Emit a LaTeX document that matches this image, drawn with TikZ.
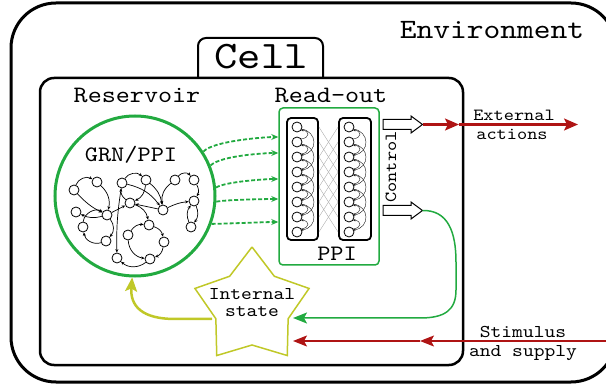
\documentclass[tikz,border=0pt]{standalone}
\usepackage{fontspec}
\newfontfamily\cmono{lmmono10-regular.otf}[FakeStretch=1.14]
\usetikzlibrary{arrows.meta,calc}
\definecolor{grn}{RGB}{34,170,64}
\definecolor{dred}{RGB}{175,20,20}
\definecolor{ylg}{RGB}{192,200,40}
\newcommand{\mfs}[1]{\cmono\fontsize{#1}{#1}\selectfont}
\begin{document}
\begin{tikzpicture}[x=1pt,y=-1pt,
  lbl/.style={inner sep=0pt},
  nn/.style={circle,draw,fill=white,line width=0.8pt,minimum size=10pt,inner sep=0pt},
  ne/.style={line width=0.7pt,-{Stealth[length=3.5pt,width=3pt]}},
  pnode/.style={circle,draw,fill=white,line width=0.8pt,minimum size=10pt,inner sep=0pt},
  parc/.style={line width=0.45pt,black!85,-{Stealth[length=2.5pt,width=2.5pt]}},
  pcol/.style={draw,line width=1.8pt,rounded corners=4pt,minimum width=31pt,minimum height=122pt,inner sep=0pt},
  dsh/.style={grn,line width=1.8pt,dash pattern=on 4pt off 2pt,-{Stealth[length=7pt,width=6pt]}},
  hollow/.style={draw,line width=1pt,fill=white}
]
\useasboundingbox (0,0) rectangle (606,385);
% environment
\draw[line width=3pt,rounded corners=45pt] (11,3) rectangle (616,382);
\node[lbl,font=\mfs{28}] (env) at (492,30) {Environment};
% cell tab and box
\draw[line width=2pt,rounded corners=8pt] (198,79) -- (198,38) -- (323,38) -- (323,79);
\node[lbl,font=\mfs{39}] (cell) at (261,57) {Cell};
\draw[line width=2.5pt,rounded corners=14pt] (40,78) rectangle (463,365);
\node[lbl,font=\mfs{23.5}] (resl) at (137,95) {Reservoir};
\node[lbl,font=\mfs{23.5}] (readl) at (331,95) {Read-out};
% reservoir
\node[circle,draw=grn,line width=3pt,minimum size=160pt] (res) at (135,196) {};
\node[lbl,font=\mfs{22}] (grn) at (131,155) {GRN/PPI};
\begin{scope}[every node/.style={nn}]
\node (n1) at (74,190) {};
\node (n2) at (97,182) {};
\node (n3) at (76,212) {};
\node (n4) at (107,215) {};
\node (n5) at (83,227) {};
\node (n6) at (106,241) {};
\node (n7) at (122,183) {};
\node (n8) at (146,180) {};
\node (n9) at (130,203) {};
\node (n10) at (149,225) {};
\node (n11) at (128,235) {};
\node (n12) at (164,242) {};
\node (n13) at (117,258) {};
\node (n14) at (150,259) {};
\node (n15) at (163,210) {};
\node (n16) at (175,180) {};
\node (n17) at (194,180) {};
\node (n18) at (194,201) {};
\node (n19) at (191,227) {};
\end{scope}
\draw[ne] (n1) to[bend left=50] (n2);
\draw[ne] (n2) to[bend left=30] (n4);
\draw[ne] (n1) to[bend right=10] (n4);
\draw[ne] (n4) to[bend left=20] (n3);
\draw[ne] (n5) to[bend left=60] (n4);
\draw[ne] (n6) to[bend left=50] (n5);
\draw[ne] (n4) to[bend left=40] (n6);
\draw[ne] (n4) -- (n9);
\draw[ne] (n7) to[bend right=5] (n13);
\draw[ne] (n7) to[bend left=50] (n8);
\draw[ne] (n8) to[bend left=30] (n9);
\draw[ne] (n9) to[bend left=30] (n7);
\draw[ne] (n7) to[bend left=20] (n15);
\draw[ne] (n15) -- (n9);
\draw[ne] (n9) to[bend left=30] (n10);
\draw[ne] (n10) to[bend left=30] (n12);
\draw[ne] (n12) to[bend left=30] (n14);
\draw[ne] (n14) to[bend left=40] (n13);
\draw[ne] (n11) to[bend right=40] (n14);
\draw[ne] (n11) to[bend left=30] (n10);
\draw[ne] (n15) to[bend left=10] (n18);
\draw[ne] (n16) to[bend left=50] (n17);
\draw[ne] (n16) to[bend right=30] (n15);
\draw[ne] (n17) to[bend left=30] (n18);
\draw[ne] (n18) to[bend left=30] (n19);
\draw[ne] (n19) to[bend left=30] (n18);
\draw[ne] (n8) to[bend left=20] (n15);
% PPI read-out
\node[draw=grn,line width=1.5pt,rounded corners=4pt,minimum width=100pt,minimum height=157pt] (ppi) at (329,186.5) {};
\node[lbl,font=\mfs{22}] (ppil) at (337,254) {PPI};
\node[pcol] (lcol) at (302.5,179) {};
\node[pcol,minimum width=32pt] (rcol) at (355,179) {};
\foreach \i in {1,...,8} {
  \coordinate (L\i) at (297,{112+15*\i});
  \coordinate (R\i) at (349,{112+15*\i});
}
\foreach \i [evaluate=\i as \j using int(\i+2)] in {1,...,6} {
  \draw[gray!70,line width=0.35pt] (L\i -| lcol.east) -- (R\j -| rcol.west);
  \draw[gray!70,line width=0.35pt] (L\j -| lcol.east) -- (R\i -| rcol.west);
  \draw[parc] ($(L\i)+(4,2)$) .. controls +(17,2) and +(17,-2) .. ($(L\j)+(4,-2)$);
  \draw[parc] ($(R\i)+(4,2)$) .. controls +(17,2) and +(17,-2) .. ($(R\j)+(4,-2)$);
}
\foreach \i [evaluate=\i as \j using int(\i+1)] in {1,...,7} {
  \draw[parc] ($(L\j)+(4,-3)$) .. controls +(9,-1) and +(9,1) .. ($(L\i)+(4,3)$);
  \draw[parc] ($(R\j)+(4,-3)$) .. controls +(9,-1) and +(9,1) .. ($(R\i)+(4,3)$);
}
\foreach \i in {1,...,8} {
  \node[pnode] (LN\i) at (L\i) {};
  \node[pnode] (RN\i) at (R\i) {};
}
% dashed arrows
\draw[dsh] (res.33) .. controls +(10,-11) and +(-12,0) .. ([yshift=49.5pt]ppi.west);
\draw[dsh] (res.22) .. controls +(10,-10) and +(-12,0) .. ([yshift=33.5pt]ppi.west);
\draw[dsh] (res.6) .. controls +(10,-6) and +(-12,0) .. ([yshift=7.5pt]ppi.west);
\draw[dsh] (res.-4) .. controls +(10,-2) and +(-12,0) .. ([yshift=-12.5pt]ppi.west);
\draw[dsh] (res.-20) .. controls +(10,0) and +(-12,0) .. ([yshift=-35.5pt]ppi.west);
% control arrows
\draw[hollow] (383,119.5) -- (411,119.5) -- (411,116) -- (422.5,124.5) -- (411,133) -- (411,129.5) -- (383,129.5) -- cycle;
\draw[hollow] (383,205.5) -- (411,205.5) -- (411,202) -- (422.5,210.5) -- (411,219) -- (411,215.5) -- (383,215.5) -- cycle;
\coordinate (ct1) at (422.5,124.5);
\coordinate (ct2) at (422.5,210.5);
\node[lbl,font=\mfs{17},rotate=90] (ctl) at (391,167) {Control};
% external actions
\coordinate (ex1) at (459,124.5);
\coordinate (ex2) at (578,124.5);
\draw[dred,line width=2.2pt,-{Stealth[length=14pt,width=12pt,inset=3pt]}] (ct1) -- (ex1);
\draw[dred,line width=2.2pt,-{Stealth[length=14pt,width=12pt,inset=3pt]}] (ex1) -- (ex2);
\node[lbl,font=\mfs{17}] (ext) at (514,115) {External};
\node[lbl,font=\mfs{17}] (act) at (512,134) {actions};
% star
\draw[ylg,line width=1.5pt] (252,247)
  \foreach \k in {0,...,4} { -- ({252+38*cos(126+72*\k)},{307-38*sin(126+72*\k)}) -- ({252+60*cos(162+72*\k)},{307-60*sin(162+72*\k)}) } ;
\coordinate (star) at (252,307);
\node[lbl,font=\mfs{18}] (intl) at (252,294) {Internal};
\node[lbl,font=\mfs{18}] (stl) at (252,312) {state};
% feedback to star
\coordinate (st1) at (293,318);
\draw[grn,line width=1.5pt,-{Stealth[length=14pt,width=11pt,inset=3pt]}] (ct2) .. controls (448,210) and (456,232) .. (456,262) -- (456,290) .. controls (456,310) and (445,318) .. (420,318) -- (st1);
% stimulus
\coordinate (sm0) at (606,341);
\coordinate (sm1) at (420,341);
\coordinate (sm2) at (293,341);
\draw[dred,line width=1.2pt,-{Stealth[length=14pt,width=11pt,inset=3pt]}] (sm0) -- (sm1);
\draw[dred,line width=1.2pt,-{Stealth[length=14pt,width=11pt,inset=3pt]}] (sm1) -- (sm2);
\node[lbl,font=\mfs{18}] (stim) at (523,332) {Stimulus};
\node[lbl,font=\mfs{18}] (sup) at (523,353) {and supply};
% internal state to reservoir
\coordinate (sl) at (212,319);
\draw[ylg,line width=2.5pt,-{Stealth[length=14pt,width=12pt,inset=3pt]}] (sl) -- (175,319) .. controls (142,319) and (130,306) .. (res.-92);
\end{tikzpicture}
\end{document}
